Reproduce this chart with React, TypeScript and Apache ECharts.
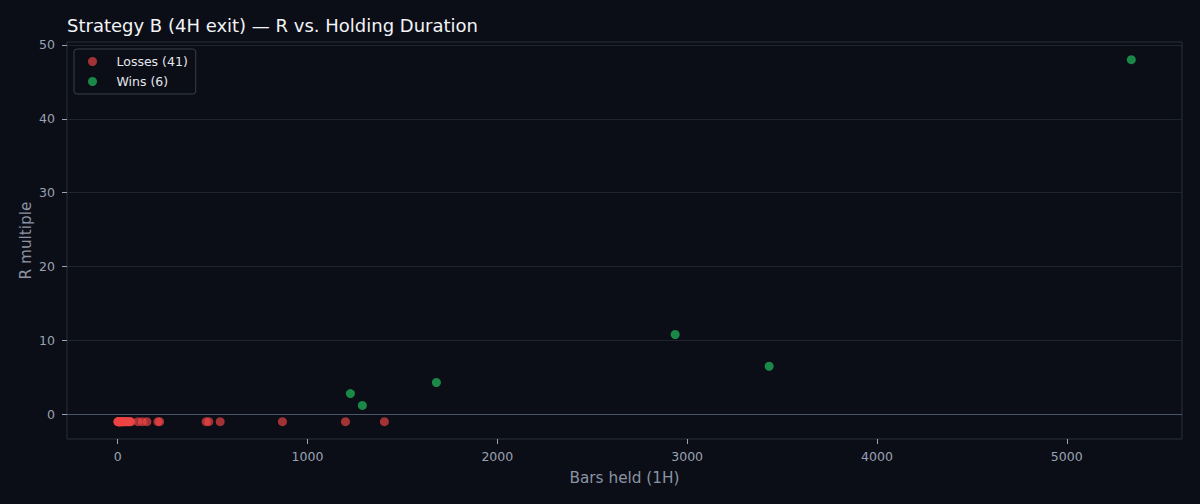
import React, { useEffect, useRef } from 'react';
import * as echarts from 'echarts';

// Losing trades: bars held and R multiple (stopped out at -1R)
const lossBars = [
  1, 2, 3, 4, 5, 6, 7, 8, 9, 10, 12, 13, 14, 16, 18, 20, 22, 24, 27, 30,
  33, 36, 40, 44, 48, 52, 57, 62, 66, 70, 107, 130, 154, 212, 221, 466, 480,
  540, 868, 1200, 1405,
];
const lossR = lossBars.map(() => -1);

// Winning trades
const winBars = [1226, 1289, 1679, 2937, 3432, 5340];
const winR = [2.8, 1.2, 4.3, 10.8, 6.5, 48.0];

const xTicks = [0, 1000, 2000, 3000, 4000, 5000];
const yTicks = [0, 10, 20, 30, 40, 50];

const BG = '#0b0e17';
const TICK_TEXT = '#9aa2b1';
const FONT = 'DejaVu Sans';

const App: React.FC = () => {
  const chartRef = useRef<HTMLDivElement>(null);

  useEffect(() => {
    if (!chartRef.current) return;
    const chart = echarts.init(chartRef.current, undefined, { renderer: 'svg' });

    const option: echarts.EChartsOption = {
      animation: false,
      backgroundColor: BG,
      textStyle: { fontFamily: FONT },
      title: {
        text: 'Strategy B (4H exit) — R vs. Holding Duration',
        left: 67,
        top: 16,
        padding: 0,
        textStyle: { color: '#f3f4f6', fontSize: 18, fontWeight: 'normal', fontFamily: FONT },
      },
      legend: {
        left: 74,
        top: 49,
        orient: 'vertical',
        padding: [6, 8, 6, 14],
        itemWidth: 38,
        itemHeight: 9,
        itemGap: 7,
        borderColor: '#3a3f4a',
        borderWidth: 1,
        borderRadius: 3,
        backgroundColor: BG,
        icon: 'circle',
        textStyle: { color: '#e5e7eb', fontSize: 12.5, fontFamily: FONT },
        data: ['Losses (41)', 'Wins (6)'],
      },
      grid: {
        left: 67,
        right: 18,
        top: 42,
        bottom: 65,
        show: true,
        borderColor: '#2a2f3a',
        borderWidth: 1,
        backgroundColor: 'transparent',
      },
      xAxis: {
        type: 'value',
        min: -267,
        max: 5607,
        name: 'Bars held (1H)',
        nameLocation: 'middle',
        nameGap: 31,
        nameMoveOverlap: false,
        nameTextStyle: { color: '#8c94a3', fontSize: 15.3, fontFamily: FONT },
        axisLine: { show: false, onZero: false },
        axisTick: {
          show: true,
          length: 5,
          lineStyle: { color: '#9aa2b1' },
          customValues: xTicks,
        },
        axisLabel: {
          color: TICK_TEXT,
          fontSize: 12.5,
          margin: 11,
          customValues: xTicks,
          formatter: (v: number) => String(v),
        },
        splitLine: { show: false },
      },
      yAxis: {
        type: 'value',
        min: -3.35,
        max: 50.4,
        name: 'R multiple',
        nameLocation: 'middle',
        nameGap: 34,
        nameMoveOverlap: false,
        nameTextStyle: { color: '#8c94a3', fontSize: 15.3, fontFamily: FONT },
        axisLine: { show: false, onZero: false },
        axisTick: {
          show: true,
          length: 5,
          lineStyle: { color: '#9aa2b1' },
          customValues: yTicks,
        },
        axisLabel: {
          color: TICK_TEXT,
          fontSize: 12.5,
          margin: 12,
          customValues: yTicks,
          formatter: (v: number) => String(v),
        },
        splitLine: { show: true, lineStyle: { color: '#1f2430', width: 1 } },
      },
      series: [
        {
          name: 'Losses (41)',
          type: 'scatter',
          symbolSize: 9,
          itemStyle: { color: '#ef4444', opacity: 0.67 },
          data: lossBars.map((b, i) => [b, lossR[i]]),
          markLine: {
            silent: true,
            symbol: 'none',
            label: { show: false },
            lineStyle: { color: '#4b5568', width: 1, type: 'solid' },
            data: [{ yAxis: 0 }],
          },
          z: 3,
        },
        {
          name: 'Wins (6)',
          type: 'scatter',
          symbolSize: 9,
          itemStyle: { color: '#22c55e', opacity: 0.67 },
          data: winBars.map((b, i) => [b, winR[i]]),
          z: 3,
        },
      ],
    } as echarts.EChartsOption;

    chart.setOption(option);

    const handleResize = () => {
      chart.resize();
    };
    window.addEventListener('resize', handleResize);

    return () => {
      window.removeEventListener('resize', handleResize);
      chart.dispose();
    };
  }, []);

  return (
    <div
      ref={chartRef}
      style={{ width: '1200px', height: '504px', position: 'fixed', left: 0, top: 0 }}
    />
  );
};

export default App;
